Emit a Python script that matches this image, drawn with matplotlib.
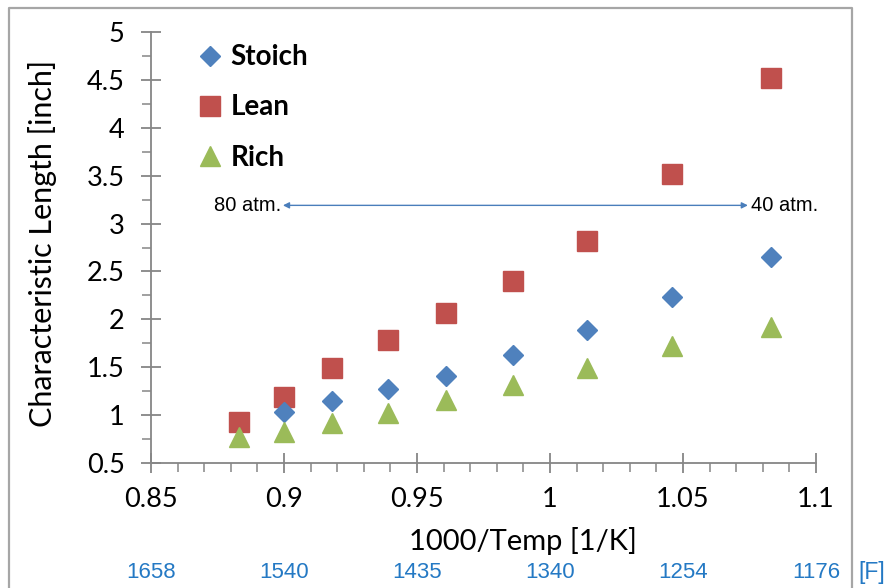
import matplotlib
matplotlib.use('Agg')
import matplotlib.pyplot as plt
from matplotlib.lines import Line2D
from matplotlib.ticker import MultipleLocator

plt.rcParams['font.family'] = ['Lato', 'DejaVu Sans']

# values
inv_temp = [0.883, 0.900, 0.918, 0.939, 0.961, 0.986, 1.014, 1.046, 1.083]
lean = [0.93, 1.19, 1.49, 1.78, 2.07, 2.40, 2.82, 3.52, 4.52]
stoich_x = inv_temp[1:]
stoich = [1.03, 1.15, 1.27, 1.41, 1.63, 1.89, 2.23, 2.65]
rich = [0.77, 0.82, 0.92, 1.02, 1.16, 1.31, 1.49, 1.72, 1.92]

x_ticks = [0.85, 0.9, 0.95, 1.0, 1.05, 1.1]
x_tick_labels = ['0.85', '0.9', '0.95', '1', '1.05', '1.1']
y_ticks = [0.5, 1, 1.5, 2, 2.5, 3, 3.5, 4, 4.5, 5]
y_tick_labels = ['0.5', '1', '1.5', '2', '2.5', '3', '3.5', '4', '4.5', '5']
f_labels = ['1658', '1540', '1435', '1340', '1254', '1176']

axis_gray = '#868686'
blue = '#4F81BD'
red = '#C0504D'
green = '#9BBB59'
f_blue = '#2479C4'

fig = plt.figure(figsize=(8.89, 5.88), dpi=100)
ax = fig.add_axes([151 / 889, 1 - 463 / 588, 665 / 889, 431 / 588])

ax.plot(stoich_x, stoich, 'D', color=blue, markersize=10.5, mec=blue, label='Stoich', zorder=3)
ax.plot(inv_temp, lean, 's', color=red, markersize=14.5, mec=red, label='Lean', zorder=2)
ax.plot(inv_temp, rich, '^', color=green, markersize=15, mec=green, label='Rich', zorder=4)

ax.set_xlim(0.85, 1.1)
ax.set_ylim(0.5, 5)
ax.set_xticks(x_ticks)
ax.set_xticklabels(x_tick_labels)
ax.set_yticks(y_ticks)
ax.set_yticklabels(y_tick_labels)
ax.xaxis.set_minor_locator(MultipleLocator(0.01))
ax.yaxis.set_minor_locator(MultipleLocator(0.25))

for side in ['top', 'right']:
    ax.spines[side].set_visible(False)
for side in ['left', 'bottom']:
    ax.spines[side].set_color(axis_gray)
    ax.spines[side].set_linewidth(1.3)

ax.tick_params(which='major', direction='inout', length=14, width=1.3, color=axis_gray,
               labelsize=19.5, labelcolor='black')
ax.tick_params(which='minor', direction='out', length=6.5, width=1.1, color=axis_gray)
ax.tick_params(axis='x', which='major', pad=10)
ax.tick_params(axis='y', which='major', pad=12)

ax.set_xlabel('1000/Temp [1/K]', fontsize=21)
ax.xaxis.set_label_coords(0.559, -0.148)
ax.set_ylabel('Characteristic Length [inch]', fontsize=22)
ax.yaxis.set_label_coords(-0.142, 0.51)

# pressure arrow
ax.annotate('', xy=(0.8996, 3.19), xytext=(1.0744, 3.19),
            arrowprops=dict(arrowstyle='<|-|>', color='#4A7EBB', lw=1,
                            mutation_scale=9, shrinkA=0, shrinkB=0))
ax.text(0.8988, 3.19, '80 atm.', ha='right', va='center', fontsize=14.5,
        family=['Liberation Sans'])
ax.text(1.0755, 3.19, '40 atm.', ha='left', va='center', fontsize=14.5,
        family=['Liberation Sans'])

# Fahrenheit labels under the axis
for xv, lab in zip(x_ticks, f_labels):
    ax.text(xv, -0.253, lab, transform=ax.get_xaxis_transform(), ha='center', va='center',
            fontsize=16, color=f_blue, family=['Liberation Sans'])
ax.text(1.063, -0.253, '[F]', transform=ax.transAxes, ha='left', va='center',
        fontsize=16.5, color=f_blue, family=['Liberation Sans'])

leg = ax.legend(loc='upper left', bbox_to_anchor=(175 / 889, 1 - 22 / 588),
                bbox_transform=fig.transFigure, frameon=False,
                prop={'size': 20, 'weight': 'bold'},
                handlelength=0.9, handletextpad=0.3, labelspacing=0.87, borderpad=0.3)

# chart area border (cropped at the bottom)
fig.add_artist(Line2D([9 / 889, 9 / 889, 852 / 889, 852 / 889],
                      [-0.01, 1 - 8 / 588, 1 - 8 / 588, -0.01],
                      transform=fig.transFigure, color='#A6A6A6', lw=1.6))

fig.savefig('out.png', dpi=100)
